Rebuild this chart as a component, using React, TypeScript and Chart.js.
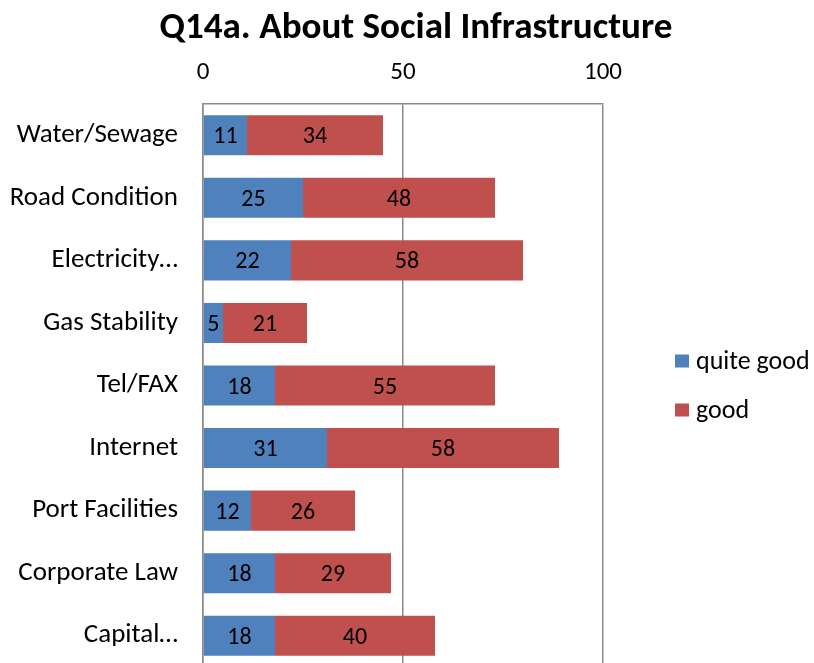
import React, { useEffect, useRef } from 'react';
import { Chart, registerables } from 'chart.js';

Chart.register(...registerables);

const categories = [
  'Water/Sewage',
  'Road Condition',
  'Electricity…',
  'Gas Stability',
  'Tel/FAX',
  'Internet',
  'Port Facilities',
  'Corporate Law',
  'Capital…',
];
const quiteGood = [11, 25, 22, 5, 18, 31, 12, 18, 18];
const good = [34, 48, 58, 21, 55, 58, 26, 29, 40];
const seriesNames = ['quite good', 'good'];
const seriesColors = ['#4F81BD', '#C0504D'];
const xMin = 0;
const xMax = 100;
const xStep = 50;
const titleText = 'Q14a. About Social Infrastructure';

const FONT = 'Carlito, Calibri, Lato, sans-serif';
const GRID = '#8a8a8a';

const W = 814;
const H = 680;

const titlePlugin = {
  id: 'customTitle',
  afterDraw(chart: any) {
    const ctx = chart.ctx;
    ctx.save();
    let size = 30;
    ctx.font = `bold ${size}px ${FONT}`;
    const w = ctx.measureText(titleText).width;
    size = size * (513 / w);
    ctx.font = `bold ${size}px ${FONT}`;
    ctx.fillStyle = '#000';
    ctx.textAlign = 'center';
    ctx.textBaseline = 'alphabetic';
    ctx.fillText(titleText, 416, 38);
    ctx.restore();
  },
};

const valueLabelPlugin = {
  id: 'valueLabels',
  afterDatasetsDraw(chart: any) {
    const ctx = chart.ctx;
    ctx.save();
    ctx.font = `24px ${FONT}`;
    ctx.fillStyle = '#000';
    ctx.textAlign = 'center';
    ctx.textBaseline = 'middle';
    chart.data.datasets.forEach((ds: any, di: number) => {
      const meta = chart.getDatasetMeta(di);
      meta.data.forEach((bar: any, i: number) => {
        const p = bar.getProps(['x', 'y', 'base'], true);
        ctx.fillText(String(ds.data[i]), (p.x + p.base) / 2, p.y + 2);
      });
    });
    ctx.restore();
  },
};

const legendPlugin = {
  id: 'customLegend',
  afterDraw(chart: any) {
    const ctx = chart.ctx;
    ctx.save();
    ctx.font = `26px ${FONT}`;
    ctx.textAlign = 'left';
    ctx.textBaseline = 'middle';
    const x0 = 675;
    const ys = [361, 410];
    seriesNames.forEach((name, i) => {
      ctx.fillStyle = seriesColors[i];
      ctx.fillRect(x0, ys[i] - 6.5, 14, 13);
      ctx.fillStyle = '#000';
      ctx.fillText(name, x0 + 21, ys[i] + 1);
    });
    ctx.restore();
  },
};

export default function App() {
  const ref = useRef<HTMLCanvasElement | null>(null);

  useEffect(() => {
    if (!ref.current) return;
    const chart = new Chart(ref.current, {
      type: 'bar',
      data: {
        labels: categories,
        datasets: [
          {
            label: seriesNames[0],
            data: quiteGood,
            backgroundColor: seriesColors[0],
            borderWidth: 0,
            barPercentage: 0.64,
            categoryPercentage: 1,
          },
          {
            label: seriesNames[1],
            data: good,
            backgroundColor: seriesColors[1],
            borderWidth: 0,
            barPercentage: 0.64,
            categoryPercentage: 1,
          },
        ],
      },
      plugins: [titlePlugin, valueLabelPlugin, legendPlugin],
      options: {
        indexAxis: 'y',
        responsive: false,
        animation: false,
        devicePixelRatio: 1,
        layout: { padding: { left: 0, right: W - 603, top: 0, bottom: 13 } },
        plugins: {
          legend: { display: false },
          title: { display: false },
          tooltip: { enabled: false },
        },
        scales: {
          x: {
            position: 'top',
            stacked: true,
            min: xMin,
            max: xMax,
            ticks: {
              stepSize: xStep,
              color: '#000',
              font: { family: FONT, size: 25 },
              padding: 16,
            },
            grid: { color: GRID, lineWidth: 1.5, drawTicks: false },
            border: { display: true, color: GRID, width: 1.5 },
            afterFit: (s: any) => {
              s.height = 104;
              s.paddingLeft = 0;
              s.paddingRight = 0;
            },
          },
          y: {
            stacked: true,
            ticks: {
              color: '#000',
              font: { family: FONT, size: 27 },
              padding: 25,
            },
            grid: { display: false, drawTicks: false },
            border: { display: true, color: GRID, width: 1.5 },
            afterFit: (s: any) => {
              s.width = 203;
              s.paddingTop = 0;
              s.paddingBottom = 0;
            },
          },
        },
      },
    });
    return () => chart.destroy();
  }, []);

  return (
    <div
      style={{
        position: 'fixed',
        left: 0,
        top: 0,
        width: 814,
        height: 663,
        overflow: 'hidden',
        background: '#fff',
      }}
    >
      <canvas ref={ref} width={W} height={H} style={{ display: 'block', width: W, height: H }} />
    </div>
  );
}
